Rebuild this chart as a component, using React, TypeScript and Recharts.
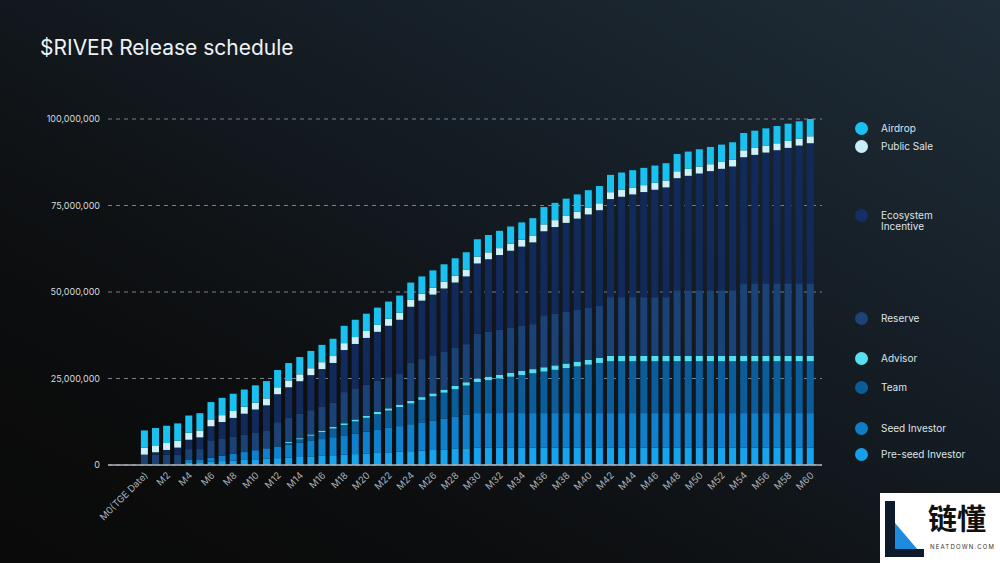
import React from "react";
import { BarChart, Bar, XAxis, YAxis, CartesianGrid } from "recharts";

const categories = [
  "M0(TGE Date)", "M1", "M2", "M3", "M4", "M5", "M6", "M7", "M8", "M9", "M10",
  "M11", "M12", "M13", "M14", "M15", "M16", "M17", "M18", "M19", "M20",
  "M21", "M22", "M23", "M24", "M25", "M26", "M27", "M28", "M29", "M30",
  "M31", "M32", "M33", "M34", "M35", "M36", "M37", "M38", "M39", "M40",
  "M41", "M42", "M43", "M44", "M45", "M46", "M47", "M48", "M49", "M50",
  "M51", "M52", "M53", "M54", "M55", "M56", "M57", "M58", "M59", "M60",
];

// values in millions of tokens
const preSeedInvestor = [
  0, 0, 0, 0, 0.8, 0.8, 0.97, 1.14, 1.3, 1.47, 1.64,
  1.81, 1.98, 2.14, 2.31, 2.48, 2.65, 2.82, 2.98, 3.15, 3.32,
  3.49, 3.66, 3.82, 3.99, 4.16, 4.33, 4.5, 4.66, 4.83, 5,
  5, 5, 5, 5, 5, 5, 5, 5, 5, 5,
  5, 5, 5, 5, 5, 5, 5, 5, 5, 5,
  5, 5, 5, 5, 5, 5, 5, 5, 5, 5,
];

const seedInvestor = [
  0, 0, 0, 0, 0.8, 0.8, 1.17, 1.54, 1.9, 2.27, 2.64,
  3.01, 3.38, 3.74, 4.11, 4.48, 4.85, 5.22, 5.58, 5.95, 6.32,
  6.69, 7.06, 7.42, 7.79, 8.16, 8.53, 8.9, 9.26, 9.63, 10,
  10, 10, 10, 10, 10, 10, 10, 10, 10, 10,
  10, 10, 10, 10, 10, 10, 10, 10, 10, 10,
  10, 10, 10, 10, 10, 10, 10, 10, 10, 10,
];

const team = [
  0, 0, 0, 0, 0, 0, 0, 0, 0, 0, 0,
  0, 0, 0.5, 1, 1.5, 2, 2.5, 3, 3.5, 4,
  4.5, 5, 5.5, 6, 6.5, 7, 7.5, 8, 8.5, 9,
  9.5, 10, 10.5, 11, 11.5, 12, 12.5, 13, 13.5, 14,
  14.5, 15, 15, 15, 15, 15, 15, 15, 15, 15,
  15, 15, 15, 15, 15, 15, 15, 15, 15, 15,
];

const advisor = [
  0, 0, 0, 0, 0, 0, 0, 0, 0, 0, 0,
  0, 0, 0.3, 0.34, 0.38, 0.42, 0.47, 0.51, 0.55, 0.59,
  0.63, 0.67, 0.71, 0.75, 0.8, 0.84, 0.88, 0.92, 0.96, 1,
  1.04, 1.08, 1.13, 1.17, 1.21, 1.25, 1.29, 1.33, 1.38, 1.42,
  1.46, 1.5, 1.5, 1.5, 1.5, 1.5, 1.5, 1.5, 1.5, 1.5,
  1.5, 1.5, 1.5, 1.5, 1.5, 1.5, 1.5, 1.5, 1.5, 1.5,
];

const reserve = [
  3, 3, 3, 3, 3, 3, 5, 5, 5, 5, 5,
  5, 7, 7, 7, 7, 7, 7, 9, 9, 9,
  9, 9, 9, 11, 11, 11, 11, 11, 11, 13,
  13, 13, 13, 13, 13, 15, 15, 15, 15, 15,
  15, 17, 17, 17, 17, 17, 17, 19, 19, 19,
  19, 19, 19, 21, 21, 21, 21, 21, 21, 21,
];

const ecosystemIncentive = [
  0, 0.68, 1.35, 2.03, 2.7, 3.38, 4.05, 4.73, 5.4, 6.08, 6.75,
  7.43, 8.1, 8.78, 9.45, 10.13, 10.8, 11.48, 12.15, 12.83, 13.5,
  14.18, 14.85, 15.53, 16.2, 16.88, 17.55, 18.23, 18.9, 19.58, 20.25,
  20.93, 21.6, 22.28, 22.95, 23.63, 24.3, 24.98, 25.65, 26.33, 27,
  27.68, 28.35, 29.03, 29.7, 30.38, 31.05, 31.73, 32.4, 33.08, 33.75,
  34.43, 35.1, 35.78, 36.45, 37.13, 37.8, 38.48, 39.15, 39.83, 40.5,
];

const publicSale = [
  2, 2, 2, 2, 2, 2, 2, 2, 2, 2, 2,
  2, 2, 2, 2, 2, 2, 2, 2, 2, 2,
  2, 2, 2, 2, 2, 2, 2, 2, 2, 2,
  2, 2, 2, 2, 2, 2, 2, 2, 2, 2,
  2, 2, 2, 2, 2, 2, 2, 2, 2, 2,
  2, 2, 2, 2, 2, 2, 2, 2, 2, 2,
];

const airdrop = [
  5, 5, 5, 5, 5, 5, 5, 5, 5, 5, 5,
  5, 5, 5, 5, 5, 5, 5, 5, 5, 5,
  5, 5, 5, 5, 5, 5, 5, 5, 5, 5,
  5, 5, 5, 5, 5, 5, 5, 5, 5, 5,
  5, 5, 5, 5, 5, 5, 5, 5, 5, 5,
  5, 5, 5, 5, 5, 5, 5, 5, 5, 5,
];

const yTicks = [0, 25, 50, 75, 100];

const series = [
  { key: "preSeed", name: "Pre-seed Investor", values: preSeedInvestor, color: "#17a4ee" },
  { key: "seed", name: "Seed Investor", values: seedInvestor, color: "#0e80cd" },
  { key: "team", name: "Team", values: team, color: "#0a5c9b" },
  { key: "advisor", name: "Advisor", values: advisor, color: "#52e0f1" },
  { key: "reserve", name: "Reserve", values: reserve, color: "#1b4277" },
  { key: "ecosystem", name: "Ecosystem Incentive", values: ecosystemIncentive, color: "#122a5a" },
  { key: "publicSale", name: "Public Sale", values: publicSale, color: "#cdf1f8" },
  { key: "airdrop", name: "Airdrop", values: airdrop, color: "#18c1ef" },
];

const data = categories.map((c, i) => {
  const row: Record<string, any> = { name: c };
  series.forEach((s) => {
    row[s.key] = s.values[i];
  });
  return row;
});

const legendItems = [
  { lines: ["Airdrop"], color: "#18c1f2", top: 128 },
  { lines: ["Public Sale"], color: "#c9f0f8", top: 146 },
  { lines: ["Ecosystem", "Incentive"], color: "#142f66", top: 215 },
  { lines: ["Reserve"], color: "#1d4275", top: 318 },
  { lines: ["Advisor"], color: "#56e1f2", top: 358 },
  { lines: ["Team"], color: "#0c5c98", top: 387 },
  { lines: ["Seed Investor"], color: "#0f7ec8", top: 428 },
  { lines: ["Pre-seed Investor"], color: "#14a0ea", top: 454 },
];

const FONT = "Inter, 'Noto Sans', 'DejaVu Sans', sans-serif";

const XTick = (props: any) => {
  const { x, y, payload } = props;
  return (
    <text
      x={x + 4}
      y={y + 3}
      transform={`rotate(-45 ${x + 4} ${y + 3})`}
      textAnchor="end"
      fill="#aab1b7"
      fontSize={9.5}
      fontFamily={FONT}
    >
      {payload.value}
    </text>
  );
};

export default function App() {
  return (
    <div
      style={{
        position: "fixed",
        left: 0,
        top: 0,
        width: 1000,
        height: 563,
        overflow: "hidden",
        fontFamily: FONT,
        background:
          "linear-gradient(to bottom left, #1f2d38 0%, #141c23 40%, #0c0d0e 75%, #0a0a0a 100%)",
      }}
    >
      <div
        style={{
          position: "absolute",
          left: 40,
          top: 35,
          fontSize: 21,
          lineHeight: "26px",
          color: "#eef2f5",
          fontWeight: 400,
          whiteSpace: "nowrap",
        }}
      >
        $RIVER Release schedule
      </div>

      <div style={{ position: "absolute", left: 0, top: 0 }}>
        <BarChart
          width={1000}
          height={563}
          data={data}
          margin={{ top: 119, right: 178, bottom: 0, left: 0 }}
          barCategoryGap="17%"
        >
          <CartesianGrid
            vertical={false}
            stroke="#76838d"
            strokeDasharray="4 4"
            strokeWidth={1}
          />
          <XAxis
            dataKey="name"
            interval={1}
            height={98}
            tickLine={false}
            axisLine={{ stroke: "#aeb3b8", strokeWidth: 1.5 }}
            padding={{ left: 31, right: 6 }}
            tick={<XTick />}
          />
          <YAxis
            width={108}
            domain={[0, 100]}
            ticks={yTicks}
            axisLine={false}
            tickLine={false}
            tick={{ fill: "#d5dade", fontSize: 9, fontFamily: FONT }}
            tickFormatter={(v: number) => (v * 1000000).toLocaleString("en-US")}
          />
          {series.map((s) => (
            <Bar
              key={s.key}
              dataKey={s.key}
              name={s.name}
              stackId="a"
              fill={s.color}
              isAnimationActive={false}
            />
          ))}
        </BarChart>
      </div>

      {legendItems.map((it) => (
        <div key={it.lines.join(" ")}>
          <div
            style={{
              position: "absolute",
              left: 855,
              top: it.top - 6.5,
              width: 13,
              height: 13,
              borderRadius: "50%",
              background: it.color,
            }}
          />
          <div
            style={{
              position: "absolute",
              left: 881,
              top: it.top - 5.5,
              fontSize: 10,
              lineHeight: "11.5px",
              color: "#dfe4e8",
              whiteSpace: "nowrap",
            }}
          >
            {it.lines.map((l) => (
              <div key={l}>{l}</div>
            ))}
          </div>
        </div>
      ))}

      <div
        style={{
          position: "absolute",
          left: 880,
          top: 493,
          width: 120,
          height: 70,
          background: "#ffffff",
        }}
      >
        <svg width={46} height={70} style={{ position: "absolute", left: 0, top: 0 }}>
          <rect x={5} y={8} width={10} height={56} fill="#0d1a2c" />
          <polygon points="15,30 15,64 44,64" fill="#1f8be0" />
          <rect x={5} y={56} width={39} height={8} fill="#0d1a2c" />
        </svg>
        <div
          style={{
            position: "absolute",
            left: 48,
            top: 6,
            fontSize: 29,
            fontWeight: 700,
            color: "#111",
            fontFamily: "'Noto Sans CJK SC', sans-serif",
            lineHeight: "36px",
            whiteSpace: "nowrap",
          }}
        >
          链懂
        </div>
        <div
          style={{
            position: "absolute",
            left: 50,
            top: 50,
            fontSize: 6,
            color: "#333",
            letterSpacing: 1.2,
            whiteSpace: "nowrap",
          }}
        >
          NEATDOWN.COM
        </div>
      </div>
    </div>
  );
}
